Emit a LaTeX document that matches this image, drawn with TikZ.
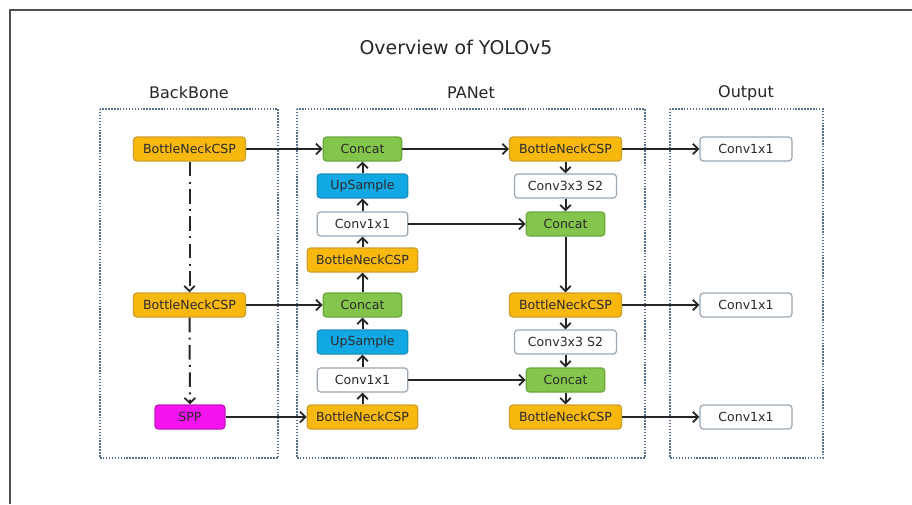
\documentclass[tikz,border=0pt]{standalone}
\usepackage{fontspec}
\setmainfont{DejaVu Sans}
\usetikzlibrary{arrows.meta}
\definecolor{orfill}{HTML}{F8B80E}
\definecolor{ordraw}{HTML}{CF9E2A}
\definecolor{grfill}{HTML}{84C64C}
\definecolor{grdraw}{HTML}{6AA63E}
\definecolor{blfill}{HTML}{12A8E4}
\definecolor{bldraw}{HTML}{1B8DBF}
\definecolor{mgfill}{HTML}{F514F0}
\definecolor{mgdraw}{HTML}{C415C0}
\definecolor{whdraw}{HTML}{9AA6B2}
\definecolor{dotcol}{HTML}{55708C}
\definecolor{framecol}{HTML}{505050}
\definecolor{txt}{HTML}{2A2A2A}
\tikzset{
  blk/.style={rounded corners=2.5pt, line width=0.9pt, minimum height=18pt, inner sep=0pt,
    font=\fontsize{9.4}{11}\selectfont, text=txt},
  orbox/.style={blk, fill=orfill, draw=ordraw, minimum width=84pt},
  grbox/.style={blk, fill=grfill, draw=grdraw, minimum width=59pt},
  blbox/.style={blk, fill=blfill, draw=bldraw, minimum width=68pt},
  whbox/.style={blk, fill=white, draw=whdraw},
  mgbox/.style={blk, fill=mgfill, draw=mgdraw, minimum width=52.5pt},
  conn/.style={line width=1.5pt, draw=black!85, -{Straight Barb[length=4pt,width=8pt,line width=1.3pt]}},
  dd/.style={conn, dash pattern=on 11pt off 4pt on 1.5pt off 4pt},
  grp/.style={draw=dotcol, line width=1.5pt, dash pattern=on 1.1pt off 1.1pt},
  head/.style={font=\fontsize{12}{14}\selectfont, text=black!85}
}
\begin{document}
\begin{tikzpicture}[x=0.75pt,y=-0.75pt]
\useasboundingbox[fill=white] (0,0) rectangle (912,504);
% outer frame
\draw[framecol, line width=1.6pt] (10,504) -- (10,10) -- (912,10);
% title
\node[font=\fontsize{14.2}{17}\selectfont, text=black!85] (title) at (456,47) {Overview of YOLOv5};
% group boxes
\draw[grp] (100,109) rectangle (278,458);
\draw[grp] (297,109) rectangle (645,458);
\draw[grp] (670,109) rectangle (823,458);
\node[head] (hbb) at (189,93) {BackBone};
\node[head] (hpa) at (471,93) {PANet};
\node[head] (hout) at (746,93) {Output};
% backbone
\node[orbox] (b1) at (189.5,149) {BottleNeckCSP};
\node[orbox] (b2) at (189.5,305) {BottleNeckCSP};
\node[mgbox] (spp) at (190,417) {SPP};
% PANet left
\node[grbox] (c1) at (362.5,149) {Concat};
\node[blbox] (u1) at (362.5,186) {UpSample};
\node[whbox, minimum width=68pt] (v1) at (362.5,224) {Conv1x1};
\node[orbox, minimum width=83pt] (p1) at (362.5,260) {BottleNeckCSP};
\node[grbox] (c2) at (362.5,305) {Concat};
\node[blbox] (u2) at (362.5,342) {UpSample};
\node[whbox, minimum width=68pt] (v2) at (362.5,380) {Conv1x1};
\node[orbox, minimum width=83pt] (p2) at (362.5,417) {BottleNeckCSP};
% PANet right
\node[orbox] (r1) at (565.5,149) {BottleNeckCSP};
\node[whbox, minimum width=76.5pt] (s1) at (565.5,186) {Conv3x3 S2};
\node[grbox] (k1) at (565.5,224) {Concat};
\node[orbox] (r2) at (565.5,305) {BottleNeckCSP};
\node[whbox, minimum width=76.5pt] (s2) at (565.5,342) {Conv3x3 S2};
\node[grbox] (k2) at (565.5,380) {Concat};
\node[orbox] (r3) at (565.5,417) {BottleNeckCSP};
% output
\node[whbox, minimum width=69pt] (o1) at (746,149) {Conv1x1};
\node[whbox, minimum width=69pt] (o2) at (746,305) {Conv1x1};
\node[whbox, minimum width=69pt] (o3) at (746,417) {Conv1x1};
% connectors
\draw[dd] (b1) -- (b2);
\draw[dd] (b2) -- (spp);
\draw[conn] (b1) -- (c1);
\draw[conn] (b2) -- (c2);
\draw[conn] (spp) -- (p2);
\draw[conn] (p2) -- (v2);
\draw[conn] (v2) -- (u2);
\draw[conn] (u2) -- (c2);
\draw[conn] (c2) -- (p1);
\draw[conn] (p1) -- (v1);
\draw[conn] (v1) -- (u1);
\draw[conn] (u1) -- (c1);
\draw[conn] (c1) -- (r1);
\draw[conn] (r1) -- (s1);
\draw[conn] (s1) -- (k1);
\draw[conn] (k1) -- (r2);
\draw[conn] (r2) -- (s2);
\draw[conn] (s2) -- (k2);
\draw[conn] (k2) -- (r3);
\draw[conn] (v1) -- (k1);
\draw[conn] (v2) -- (k2);
\draw[conn] (r1) -- (o1);
\draw[conn] (r2) -- (o2);
\draw[conn] (r3) -- (o3);
\end{tikzpicture}
\end{document}
